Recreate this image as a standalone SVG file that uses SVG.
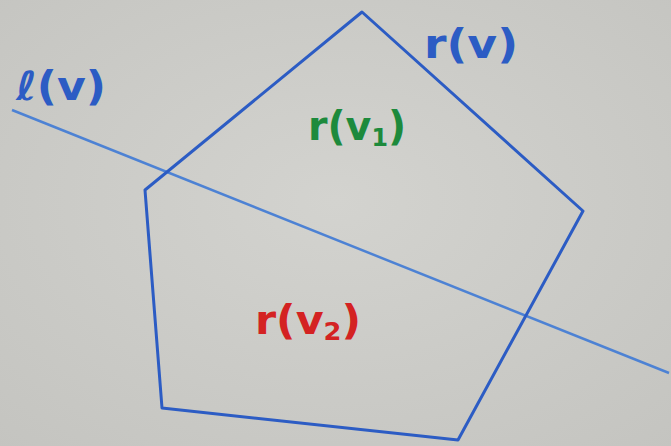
<svg xmlns="http://www.w3.org/2000/svg" width="671" height="446" viewBox="0 0 671 446">
<defs>
<radialGradient id="bg" cx="0.5" cy="0.45" r="0.75">
<stop offset="0" stop-color="#d3d3cf"/>
<stop offset="1" stop-color="#c4c4c0"/>
</radialGradient>
</defs>
<style>
.lbl{font-family:"DejaVu Sans","Liberation Sans",sans-serif;font-size:40px;font-weight:bold}
.sub{font-size:24px}
.poly{fill:none;stroke:#2c5cc4;stroke-width:3;stroke-linejoin:round}
.ln{fill:none;stroke:#4d82d4;stroke-width:2.5}
</style>
<rect width="671" height="446" fill="url(#bg)"/>
<g id="connectors">
<line class="ln" x1="12" y1="110" x2="669" y2="373"/>
</g>
<g id="pentagon">
<polygon class="poly" points="362,12 583,211 458,440 162,408 145,190"/>
</g>
<g id="label-l">
<text class="lbl" x="16" y="100" fill="#2c5cc4" textLength="90" lengthAdjust="spacingAndGlyphs">ℓ(v)</text>
</g>
<g id="label-rv">
<text class="lbl" x="424" y="58" fill="#2c5cc4" textLength="94" lengthAdjust="spacingAndGlyphs">r(v)</text>
</g>
<g id="label-rv1">
<text class="lbl" x="308" y="140" fill="#1d8a3c" textLength="98" lengthAdjust="spacingAndGlyphs">r(v<tspan class="sub" dy="6">1</tspan><tspan dy="-6">)</tspan></text>
</g>
<g id="label-rv2">
<text class="lbl" x="255" y="334" fill="#d42222" textLength="106" lengthAdjust="spacingAndGlyphs">r(v<tspan class="sub" dy="6">2</tspan><tspan dy="-6">)</tspan></text>
</g>
</svg>
